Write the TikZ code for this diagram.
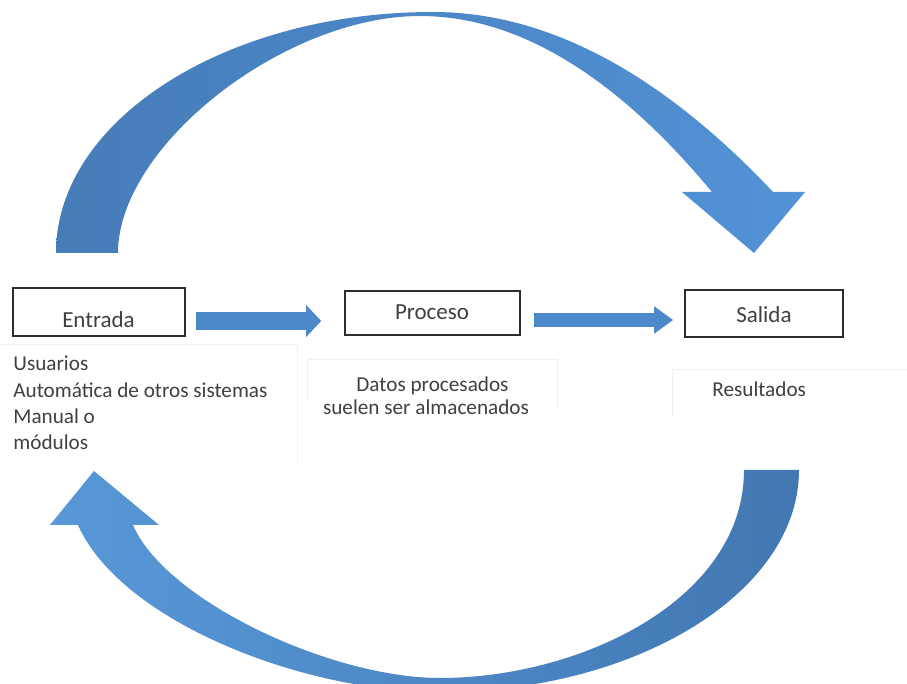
\documentclass[tikz,border=0pt]{standalone}
\usepackage{fontspec}
\setmainfont{Carlito}
\usetikzlibrary{arrows.meta,calc}
\definecolor{topL}{RGB}{70,124,184}
\definecolor{topM}{RGB}{58,110,162}
\definecolor{topR}{RGB}{82,146,214}
\definecolor{botL}{RGB}{88,152,216}
\definecolor{botR}{RGB}{66,120,178}
\definecolor{flowblue}{RGB}{76,136,202}
\definecolor{txt}{RGB}{64,64,64}
\definecolor{edge}{RGB}{45,45,45}
\definecolor{faint}{RGB}{240,240,240}
\tikzset{
  stagebox/.style={draw=edge, line width=0.8pt, fill=white, inner sep=0pt},
  stagelbl/.style={font=\fontsize{11.5pt}{13pt}\selectfont, text=txt, inner sep=0pt},
  bodytxt/.style={font=\fontsize{10.6pt}{13.2pt}\selectfont, text=txt, inner sep=0pt},
  flow/.style={draw=flowblue, line width=#1},
  faintline/.style={draw=faint, line width=0.5pt}
}
\begin{document}
\begin{tikzpicture}[x=0.5pt, y=-0.5pt]
\useasboundingbox (0,0) rectangle (907,684);
\fill[white] (0,0) rectangle (907,684);
\begin{scope}
\clip (0,0) rectangle (907,684);
% top curved arrow
\shade[left color=topL, middle color=topM, right color=topR]
  (56,253) .. controls (56,120) and (226,12) .. (433,12)
  .. controls (546,12) and (660,72) .. (773,192)
  -- (805,192) -- (754,253) -- (682,192) -- (712,192)
  .. controls (615,75) and (517,16) .. (420,16)
  .. controls (284,16) and (118,146) .. (118,253)
  -- cycle;
% bottom curved arrow
\shade[left color=botL, right color=botR]
  (744,470) -- (799,470)
  .. controls (799,592) and (637,692) .. (440,692)
  .. controls (300,692) and (120,620) .. (78,525)
  -- (50,525) -- (94,471) -- (159,525) -- (133,525)
  .. controls (165,600) and (330,678) .. (440,678)
  .. controls (580,678) and (744,600) .. (744,470)
  -- cycle;
\end{scope}
% faint text frames
\draw[faintline] (0,345) -- (297,345) -- (297,463);
\draw[faintline] (307,400) -- (307,360) -- (557,360) -- (557,410);
\draw[faintline] (672,417) -- (672,370) -- (907,370);
% boxes
\node[stagebox, minimum width=86pt, minimum height=24pt] (entrada) at (99,312) {};
\node[stagebox, minimum width=87.5pt, minimum height=22pt] (proceso) at (432.5,313) {};
\node[stagebox, minimum width=79pt, minimum height=23.5pt] (salida) at (764,313.5) {};
\node[stagelbl, anchor=base] (entradaL) at (98.5,328) {Entrada};
\node[stagelbl, anchor=base] (procesoL) at (432,320) {Proceso};
\node[stagelbl, anchor=base] (salidaL) at (764,323) {Salida};
% straight arrows
\draw[flow=9pt, -{Triangle[length=7.5pt, width=15.5pt]}, shorten <=5pt, shorten >=11.5pt]
  ([yshift=-4.5pt]entrada.east) -- ([yshift=-4.5pt]entrada.east -| proceso.west);
\draw[flow=7pt, -{Triangle[length=9.5pt, width=13pt]}, shorten <=6.5pt, shorten >=5.5pt]
  ([yshift=-3.5pt]proceso.east) -- ([yshift=-3.5pt]proceso.east -| salida.west);
% texts
\node[bodytxt, anchor=base west, align=left] (entradaT) at (13,450) {Usuarios\\Automática de otros sistemas\\Manual o\\módulos};
\node[bodytxt, anchor=base] (procesoT1) at (432.5,392) {Datos procesados};
\node[bodytxt, anchor=base] (procesoT2) at (426,415) {suelen ser almacenados};
\node[bodytxt, anchor=base west] (salidaT) at (712,397) {Resultados};
\end{tikzpicture}
\end{document}
